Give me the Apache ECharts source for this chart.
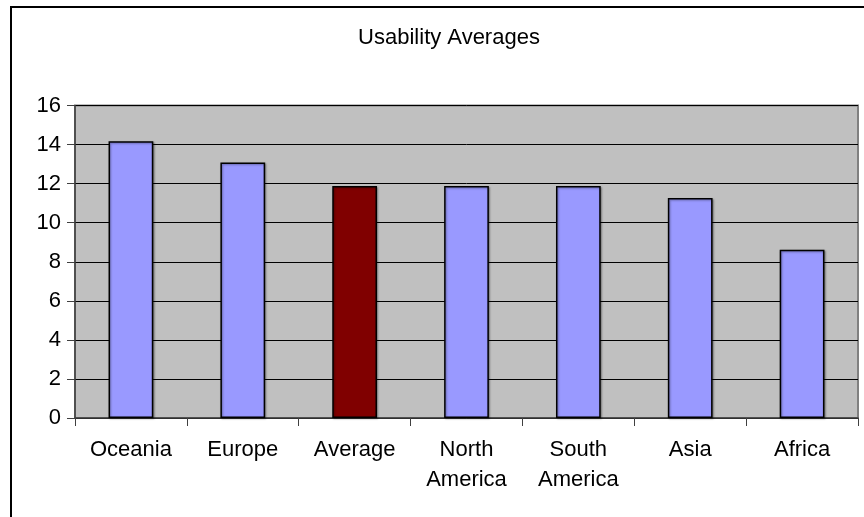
<!DOCTYPE html>
<html>
<head>
<meta charset="utf-8">
<script src="https://cdn.jsdelivr.net/npm/echarts@6/dist/echarts.min.js"></script>
<style>
  html, body { margin: 0; padding: 0; background: #fff; }
  #chart { width: 864px; height: 517px; }
</style>
</head>
<body>
<div id="chart"></div>
<script>
const regions = ['Oceania', 'Europe', 'Average', 'North\nAmerica', 'South\nAmerica', 'Asia', 'Africa']
const usabilityAverages = [14.17, 13.08, 11.88, 11.88, 11.88, 11.27, 8.62]
const yTicks = { min: 0, max: 16, interval: 2 }
const highlighted = 'Average'

const chart = echarts.init(document.getElementById('chart'))
const font = '"Liberation Sans", Arial, sans-serif'

chart.setOption({
  backgroundColor: '#fff',
  animation: false,
  title: {
    text: 'Usability Averages',
    left: 444,
    textAlign: 'center',
    top: 22,
    textStyle: { fontFamily: font, fontSize: 22, fontWeight: 'normal', color: '#000' }
  },
  graphic: [
    {
      type: 'rect',
      shape: { x: 11, y: 7, width: 900, height: 600 },
      style: { fill: 'none', stroke: '#000', lineWidth: 2 },
      z: 100
    }
  ],
  grid: {
    left: 75, right: 6, top: 105.5, bottom: 99,
    show: true,
    backgroundColor: '#c0c0c0',
    borderColor: '#808080',
    borderWidth: 2
  },
  xAxis: {
    type: 'category',
    data: regions,
    axisLine: { lineStyle: { color: '#404040', width: 1.5 } },
    axisTick: { show: true, length: 8, lineStyle: { color: '#404040' } },
    axisLabel: { fontFamily: font, fontSize: 22, color: '#000', margin: 17, lineHeight: 30 }
  },
  yAxis: {
    type: 'value',
    min: yTicks.min,
    max: yTicks.max,
    interval: yTicks.interval,
    axisLine: { show: true, lineStyle: { color: '#404040', width: 1.5 } },
    axisTick: { show: true, length: 8, lineStyle: { color: '#404040' } },
    axisLabel: { fontFamily: font, fontSize: 22, color: '#000', margin: 14 },
    splitLine: { show: true, lineStyle: { color: '#000', width: 1 } }
  },
  series: [
    {
      type: 'bar',
      data: usabilityAverages,
      barCategoryGap: '60%',
      itemStyle: {
        color: (p) => (regions[p.dataIndex] === highlighted ? '#800000' : '#9999ff'),
        borderColor: '#000',
        borderWidth: 1.5,
        shadowColor: 'rgba(0,0,0,0.35)',
        shadowBlur: 2,
        shadowOffsetX: 1,
        shadowOffsetY: 1
      }
    }
  ]
})
</script>
</body>
</html>
